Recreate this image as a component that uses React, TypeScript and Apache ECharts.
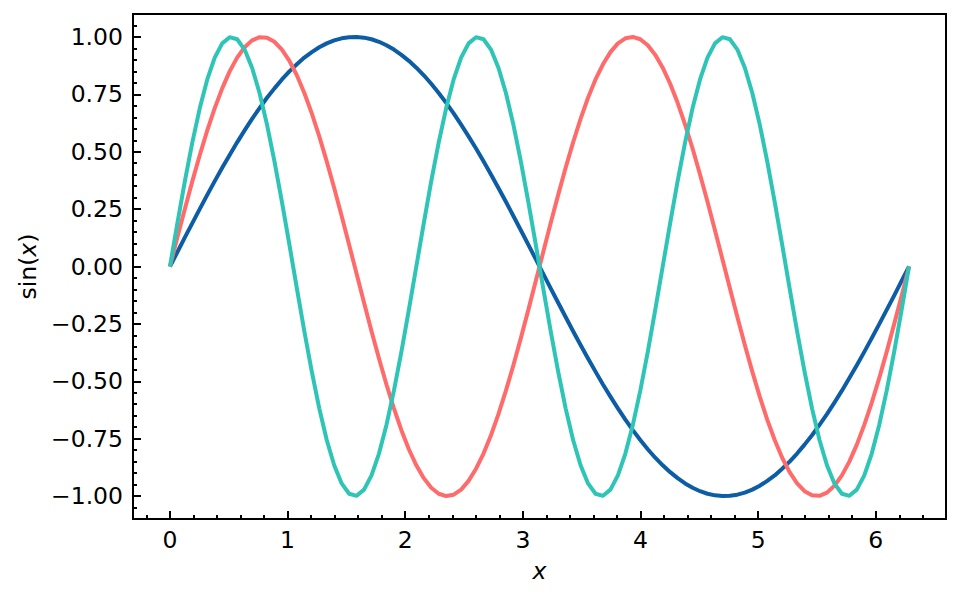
import React, { useEffect, useRef } from "react";
import * as echarts from "echarts";

// x sample positions (0 .. 2π, 100 points)
const xValues = [
  0, 0.0635, 0.1269, 0.1904, 0.2539, 0.3173, 0.3808, 0.4443, 0.5077, 0.5712,
  0.6347, 0.6981, 0.7616, 0.8251, 0.8885, 0.952, 1.0155, 1.0789, 1.1424, 1.2059,
  1.2693, 1.3328, 1.3963, 1.4597, 1.5232, 1.5867, 1.6501, 1.7136, 1.7771, 1.8405,
  1.904, 1.9675, 2.0309, 2.0944, 2.1579, 2.2213, 2.2848, 2.3483, 2.4117, 2.4752,
  2.5387, 2.6021, 2.6656, 2.7291, 2.7925, 2.856, 2.9195, 2.9829, 3.0464, 3.1099,
  3.1733, 3.2368, 3.3003, 3.3637, 3.4272, 3.4907, 3.5541, 3.6176, 3.6811, 3.7445,
  3.808, 3.8715, 3.9349, 3.9984, 4.0619, 4.1253, 4.1888, 4.2523, 4.3157, 4.3792,
  4.4427, 4.5061, 4.5696, 4.6331, 4.6965, 4.76, 4.8235, 4.8869, 4.9504, 5.0139,
  5.0773, 5.1408, 5.2043, 5.2677, 5.3312, 5.3947, 5.4581, 5.5216, 5.5851, 5.6485,
  5.712, 5.7755, 5.8389, 5.9024, 5.9659, 6.0293, 6.0928, 6.1563, 6.2197, 6.2832,
];

const sinX = [
  0, 0.063, 0.127, 0.189, 0.251, 0.312, 0.372, 0.43, 0.486, 0.541,
  0.593, 0.643, 0.69, 0.735, 0.776, 0.815, 0.85, 0.881, 0.91, 0.934,
  0.955, 0.972, 0.985, 0.994, 0.999, 1.0, 0.997, 0.99, 0.979, 0.964,
  0.945, 0.922, 0.896, 0.866, 0.833, 0.796, 0.756, 0.713, 0.667, 0.618,
  0.567, 0.514, 0.458, 0.401, 0.342, 0.282, 0.22, 0.158, 0.095, 0.032,
  -0.032, -0.095, -0.158, -0.22, -0.282, -0.342, -0.401, -0.458, -0.514, -0.567,
  -0.618, -0.667, -0.713, -0.756, -0.796, -0.833, -0.866, -0.896, -0.922, -0.945,
  -0.964, -0.979, -0.99, -0.997, -1.0, -0.999, -0.994, -0.985, -0.972, -0.955,
  -0.934, -0.91, -0.881, -0.85, -0.815, -0.776, -0.735, -0.69, -0.643, -0.593,
  -0.541, -0.486, -0.43, -0.372, -0.312, -0.251, -0.189, -0.127, -0.063, 0,
];

const sin2X = [
  0, 0.127, 0.251, 0.372, 0.486, 0.593, 0.69, 0.776, 0.85, 0.91,
  0.955, 0.985, 0.999, 0.997, 0.979, 0.945, 0.896, 0.833, 0.756, 0.667,
  0.567, 0.458, 0.342, 0.22, 0.095, -0.032, -0.158, -0.282, -0.401, -0.514,
  -0.618, -0.713, -0.796, -0.866, -0.922, -0.964, -0.99, -1.0, -0.994, -0.972,
  -0.934, -0.881, -0.815, -0.735, -0.643, -0.541, -0.43, -0.312, -0.189, -0.063,
  0.063, 0.189, 0.312, 0.43, 0.541, 0.643, 0.735, 0.815, 0.881, 0.934,
  0.972, 0.994, 1.0, 0.99, 0.964, 0.922, 0.866, 0.796, 0.713, 0.618,
  0.514, 0.401, 0.282, 0.158, 0.032, -0.095, -0.22, -0.342, -0.458, -0.567,
  -0.667, -0.756, -0.833, -0.896, -0.945, -0.979, -0.997, -0.999, -0.985, -0.955,
  -0.91, -0.85, -0.776, -0.69, -0.593, -0.486, -0.372, -0.251, -0.127, 0,
];

const sin3X = [
  0, 0.189, 0.372, 0.541, 0.69, 0.815, 0.91, 0.972, 0.999, 0.99,
  0.945, 0.866, 0.756, 0.618, 0.458, 0.282, 0.095, -0.095, -0.282, -0.458,
  -0.618, -0.756, -0.866, -0.945, -0.99, -0.999, -0.972, -0.91, -0.815, -0.69,
  -0.541, -0.372, -0.189, 0,
  0.189, 0.372, 0.541, 0.69, 0.815, 0.91, 0.972, 0.999, 0.99,
  0.945, 0.866, 0.756, 0.618, 0.458, 0.282, 0.095, -0.095, -0.282, -0.458,
  -0.618, -0.756, -0.866, -0.945, -0.99, -0.999, -0.972, -0.91, -0.815, -0.69,
  -0.541, -0.372, -0.189, 0,
  0.189, 0.372, 0.541, 0.69, 0.815, 0.91, 0.972, 0.999, 0.99,
  0.945, 0.866, 0.756, 0.618, 0.458, 0.282, 0.095, -0.095, -0.282, -0.458,
  -0.618, -0.756, -0.866, -0.945, -0.99, -0.999, -0.972, -0.91, -0.815, -0.69,
  -0.541, -0.372, -0.189, 0,
];

const xMajorTicks = [0, 1, 2, 3, 4, 5, 6];
const xMinorTicks = [
  -0.2, 0.2, 0.4, 0.6, 0.8, 1.2, 1.4, 1.6, 1.8, 2.2, 2.4, 2.6, 2.8, 3.2, 3.4, 3.6, 3.8,
  4.2, 4.4, 4.6, 4.8, 5.2, 5.4, 5.6, 5.8, 6.2, 6.4,
];
const yMajorTicks = [-1, -0.75, -0.5, -0.25, 0, 0.25, 0.5, 0.75, 1];
const yMinorTicks = [
  -1.05, -0.95, -0.9, -0.85, -0.8, -0.7, -0.65, -0.6, -0.55, -0.45, -0.4, -0.35, -0.3,
  -0.2, -0.15, -0.1, -0.05, 0.05, 0.1, 0.15, 0.2, 0.3, 0.35, 0.4, 0.45, 0.55, 0.6, 0.65,
  0.7, 0.8, 0.85, 0.9, 0.95, 1.05,
];

const X_MIN = -0.314;
const X_MAX = 6.597;
const Y_MIN = -1.1;
const Y_MAX = 1.1;

const FONT = "DejaVu Sans";
const FS = 23.5;

const fmtNum = (v: number, d: number) => {
  const s = Math.abs(v).toFixed(d);
  return v < -1e-9 ? "\u2212" + s : s;
};

export default function App() {
  const ref = useRef<HTMLDivElement>(null);

  useEffect(() => {
    document.body.style.margin = "0";
    if (!ref.current) return;
    const chart = echarts.init(ref.current, undefined, { renderer: "svg" });

    const zip = (ys: number[]) => xValues.map((x, i) => [x, ys[i]]);

    const tickStyle = { color: "#000", width: 2 };

    chart.setOption({
      animation: false,
      backgroundColor: "#fff",
      grid: {
        left: 133,
        right: 16,
        top: 14,
        bottom: 79,
        show: true,
        borderColor: "#000",
        borderWidth: 2,
        backgroundColor: "transparent",
      },
      xAxis: [
        {
          type: "value",
          min: X_MIN,
          max: X_MAX,
          position: "bottom",
          axisLine: { show: true, onZero: false, lineStyle: { color: "#000", width: 2 } },
          axisTick: { show: true, inside: true, length: 8, customValues: xMajorTicks, lineStyle: tickStyle },
          axisLabel: {
            show: true,
            customValues: xMajorTicks,
            formatter: (v: number) => fmtNum(v, 0),
            fontFamily: FONT,
            fontSize: FS,
            color: "#000",
            margin: 9,
          },
          splitLine: { show: false },
          name: "x",
          nameLocation: "middle",
          nameGap: 40,
          nameTextStyle: { fontFamily: FONT, fontSize: FS, fontStyle: "italic", color: "#000" },
        },
        {
          type: "value",
          min: X_MIN,
          max: X_MAX,
          position: "bottom",
          offset: 0,
          axisLine: { show: false, onZero: false },
          axisTick: { show: true, inside: true, length: 4, customValues: xMinorTicks, lineStyle: tickStyle },
          axisLabel: { show: false },
          splitLine: { show: false },
        },
      ],
      yAxis: [
        {
          type: "value",
          min: Y_MIN,
          max: Y_MAX,
          position: "left",
          axisLine: { show: true, onZero: false, lineStyle: { color: "#000", width: 2 } },
          axisTick: { show: true, inside: true, length: 8, customValues: yMajorTicks, lineStyle: tickStyle },
          axisLabel: {
            show: true,
            customValues: yMajorTicks,
            formatter: (v: number) => fmtNum(v, 2),
            fontFamily: FONT,
            fontSize: FS,
            color: "#000",
            margin: 10,
          },
          splitLine: { show: false },
          name: "{a|sin(}{b|x}{a|)}",
          nameLocation: "middle",
          nameGap: 88,
          nameRotate: 90,
          nameTextStyle: {
            fontFamily: FONT,
            fontSize: FS,
            color: "#000",
            rich: {
              a: { fontFamily: FONT, fontSize: FS, color: "#000" },
              b: { fontFamily: FONT, fontSize: FS, color: "#000", fontStyle: "italic" },
            },
          },
        },
        {
          type: "value",
          min: Y_MIN,
          max: Y_MAX,
          position: "left",
          offset: 0,
          axisLine: { show: false, onZero: false },
          axisTick: { show: true, inside: true, length: 4, customValues: yMinorTicks, lineStyle: tickStyle },
          axisLabel: { show: false },
          splitLine: { show: false },
        },
      ],
      series: [
        {
          name: "sin(x)",
          type: "line",
          data: zip(sinX),
          showSymbol: false,
          symbol: "none",
          lineStyle: { color: "#0C5DA5", width: 4, join: "round" },
          z: 2,
        },
        {
          name: "sin(2x)",
          type: "line",
          data: zip(sin2X),
          showSymbol: false,
          symbol: "none",
          lineStyle: { color: "#FF6B6B", width: 4, join: "round" },
          z: 3,
        },
        {
          name: "sin(3x)",
          type: "line",
          data: zip(sin3X),
          showSymbol: false,
          symbol: "none",
          lineStyle: { color: "#2EC4B6", width: 4, join: "round" },
          z: 4,
        },
      ],
    });

    return () => chart.dispose();
  }, []);

  return (
    <div
      ref={ref}
      style={{ position: "absolute", left: 0, top: 0, width: 962, height: 598 }}
    />
  );
}
